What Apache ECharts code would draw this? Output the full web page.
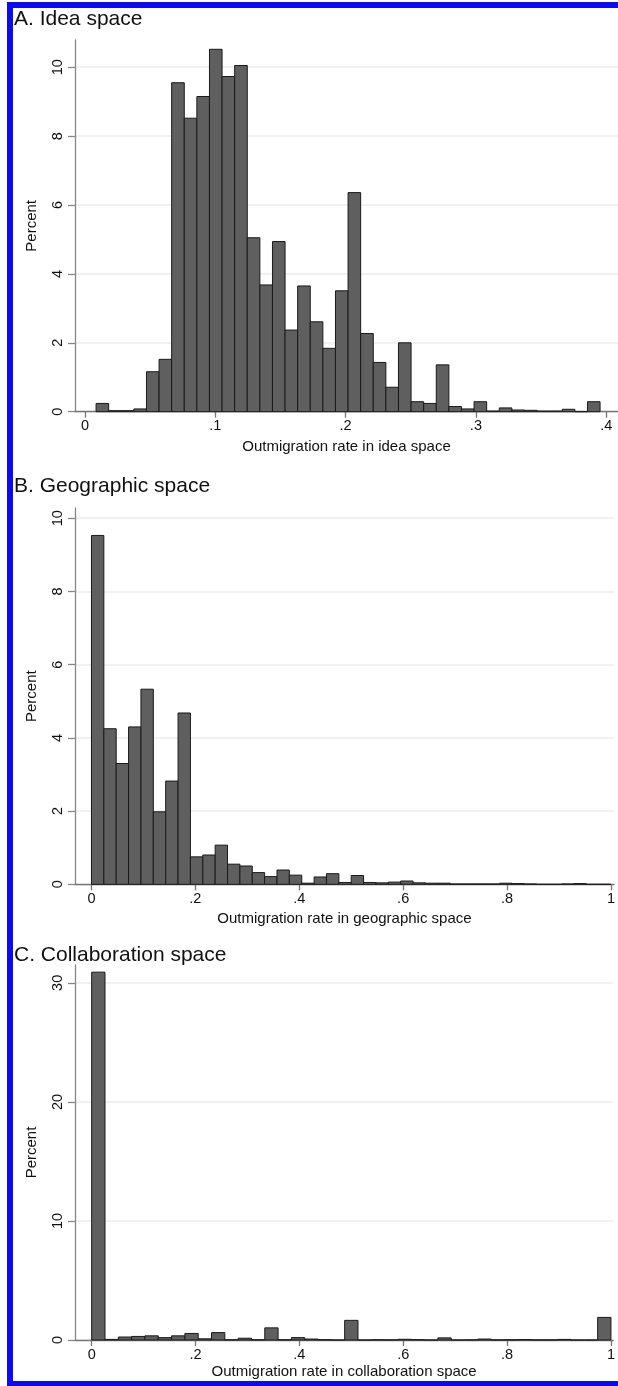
<!DOCTYPE html>
<html>
<head>
<meta charset="utf-8">
<script src="https://cdn.jsdelivr.net/npm/echarts@6/dist/echarts.min.js"></script>
<style>
html,body{margin:0;padding:0;background:#fff;}
#c{width:618px;height:1386px;}
</style>
</head>
<body>
<div id="c"></div>
<script>
// ---- Data ----
const panelTitles = ['A. Idea space', 'B. Geographic space', 'C. Collaboration space'];
const axisNames = ['Outmigration rate in idea space', 'Outmigration rate in geographic space', 'Outmigration rate in collaboration space'];

// Panel A: 40 bins
const ideaBinStart = 0.0085;
const ideaBinWidth = 0.00967;
const ideaPercent = [0.24, 0.03, 0.03, 0.08, 1.16, 1.52, 9.55, 8.52, 9.15, 10.52,
  9.73, 10.05, 5.05, 3.68, 4.94, 2.37, 3.65, 2.61, 1.84, 3.51,
  6.36, 2.27, 1.43, 0.71, 2.00, 0.29, 0.24, 1.36, 0.15, 0.08,
  0.29, 0.02, 0.11, 0.05, 0.04, 0.02, 0.02, 0.07, 0.00, 0.29];

// Panel B: 42 bins
const geoBinStart = 0;
const geoBinWidth = 1 / 42;
const geoPercent = [9.53, 4.25, 3.30, 4.30, 5.33, 1.98, 2.82, 4.68, 0.75, 0.80,
  1.07, 0.55, 0.50, 0.32, 0.21, 0.39, 0.25, 0.03, 0.20, 0.29,
  0.05, 0.24, 0.05, 0.04, 0.06, 0.09, 0.04, 0.03, 0.03, 0.01,
  0.01, 0.01, 0.01, 0.03, 0.02, 0.01, 0.00, 0.00, 0.01, 0.02,
  0.00, 0.00];

// Panel C: 39 bins
const collabBinStart = 0;
const collabBinWidth = 1 / 39;
const collabPercent = [30.9, 0.05, 0.25, 0.30, 0.35, 0.20, 0.35, 0.55, 0.10, 0.62,
  0.02, 0.15, 0.02, 1.02, 0.02, 0.20, 0.08, 0.03, 0.00, 1.65,
  0.00, 0.02, 0.01, 0.06, 0.03, 0.00, 0.18, 0.00, 0.01, 0.08,
  0.01, 0.02, 0.04, 0.01, 0.01, 0.05, 0.00, 0.00, 1.90];

const ideaXTicks = [0, 0.1, 0.2, 0.3, 0.4];
const geoXTicks = [0, 0.2, 0.4, 0.6, 0.8, 1];
const collabXTicks = [0, 0.2, 0.4, 0.6, 0.8, 1];
const ideaYTicks = [0, 2, 4, 6, 8, 10];
const geoYTicks = [0, 2, 4, 6, 8, 10];
const collabYTicks = [0, 10, 20, 30];

// ---- Build ----
function hist(start, width, values) {
  return values.map((v, i) => [start + i * width, start + (i + 1) * width, v]);
}
const FONT = '"Liberation Sans", Arial, Helvetica, sans-serif';
const fmt = v => String(+(+v).toFixed(2)).replace(/^0\./, '.');

const panels = [
  {data: hist(ideaBinStart, ideaBinWidth, ideaPercent), xt: ideaXTicks, yt: ideaYTicks, nameGap: 28,
   grid: {left: 75, right: 0, top: 40, height: 371.7}, xr: [-0.00767, 0.40906], yr: [0, 10.79]},
  {data: hist(geoBinStart, geoBinWidth, geoPercent), xt: geoXTicks, yt: geoYTicks, nameGap: 27,
   grid: {left: 75, right: 3, top: 508, height: 376.3}, xr: [-0.0317, 1.0058], yr: [0, 10.28]},
  {data: hist(collabBinStart, collabBinWidth, collabPercent), xt: collabXTicks, yt: collabYTicks, nameGap: 24,
   grid: {left: 75, right: 3, top: 965, height: 375}, xr: [-0.0321, 1.0044], yr: [0, 31.5]}
];
const titleTops = [9, 476, 945];

const option = {
  backgroundColor: '#fff',
  animation: false,
  textStyle: {fontFamily: FONT},
  title: panelTitles.map((t, i) => ({
    text: t, left: 14, top: titleTops[i], padding: 0,
    textStyle: {fontFamily: FONT, fontSize: 21, fontWeight: 'normal', color: '#111'}
  })),
  grid: panels.map(p => p.grid),
  xAxis: panels.map((p, i) => ({
    type: 'value', gridIndex: i, min: p.xr[0], max: p.xr[1],
    name: axisNames[i], nameLocation: 'middle', nameGap: p.nameGap,
    nameTextStyle: {fontFamily: FONT, fontSize: 15, color: '#111'},
    axisLine: {show: true, onZero: false, lineStyle: {color: '#777', width: 1.3}},
    axisTick: {show: true, length: 6, customValues: p.xt, lineStyle: {color: '#777', width: 1.3}},
    axisLabel: {customValues: p.xt, formatter: fmt, fontFamily: FONT, fontSize: 14.5, color: '#111', margin: 7, hideOverlap: false},
    splitLine: {show: false}
  })),
  yAxis: panels.map((p, i) => ({
    type: 'value', gridIndex: i, min: p.yr[0], max: p.yr[1],
    name: 'Percent', nameLocation: 'middle', nameGap: 36, nameRotate: 90,
    nameTextStyle: {fontFamily: FONT, fontSize: 15, color: '#111'},
    axisLine: {show: true, onZero: false, lineStyle: {color: '#888', width: 1.3}},
    axisTick: {show: true, length: 7, customValues: p.yt, lineStyle: {color: '#888', width: 1.3}},
    axisLabel: {customValues: p.yt, rotate: 90, fontFamily: FONT, fontSize: 14.5, color: '#111', margin: 10, hideOverlap: false},
    splitLine: {show: true, lineStyle: {color: '#ececec', width: 1.5}}
  })),
  series: panels.map((p, i) => ({
    type: 'custom', xAxisIndex: i, yAxisIndex: i,
    encode: {x: [0, 1], y: 2},
    data: p.data,
    renderItem: function (params, api) {
      const x0 = api.value(0), x1 = api.value(1), y = api.value(2);
      const a = api.coord([x0, 0]);
      const b = api.coord([x1, y]);
      return {
        type: 'rect',
        shape: {x: a[0], y: b[1], width: b[0] - a[0], height: a[1] - b[1]},
        style: {fill: '#5f5f5f', stroke: '#1a1a1a', lineWidth: 1}
      };
    }
  })),
  graphic: [
    {type: 'rect', shape: {x: 7, y: 2, width: 6, height: 1384}, style: {fill: '#0b0bf2'}},
    {type: 'rect', shape: {x: 7, y: 2, width: 611, height: 6}, style: {fill: '#0b0bf2'}},
    {type: 'rect', shape: {x: 7, y: 1381, width: 611, height: 5}, style: {fill: '#0b0bf2'}}
  ]
};

const chart = echarts.init(document.getElementById('c'), null, {renderer: 'canvas'});
chart.setOption(option);
</script>
</body>
</html>
